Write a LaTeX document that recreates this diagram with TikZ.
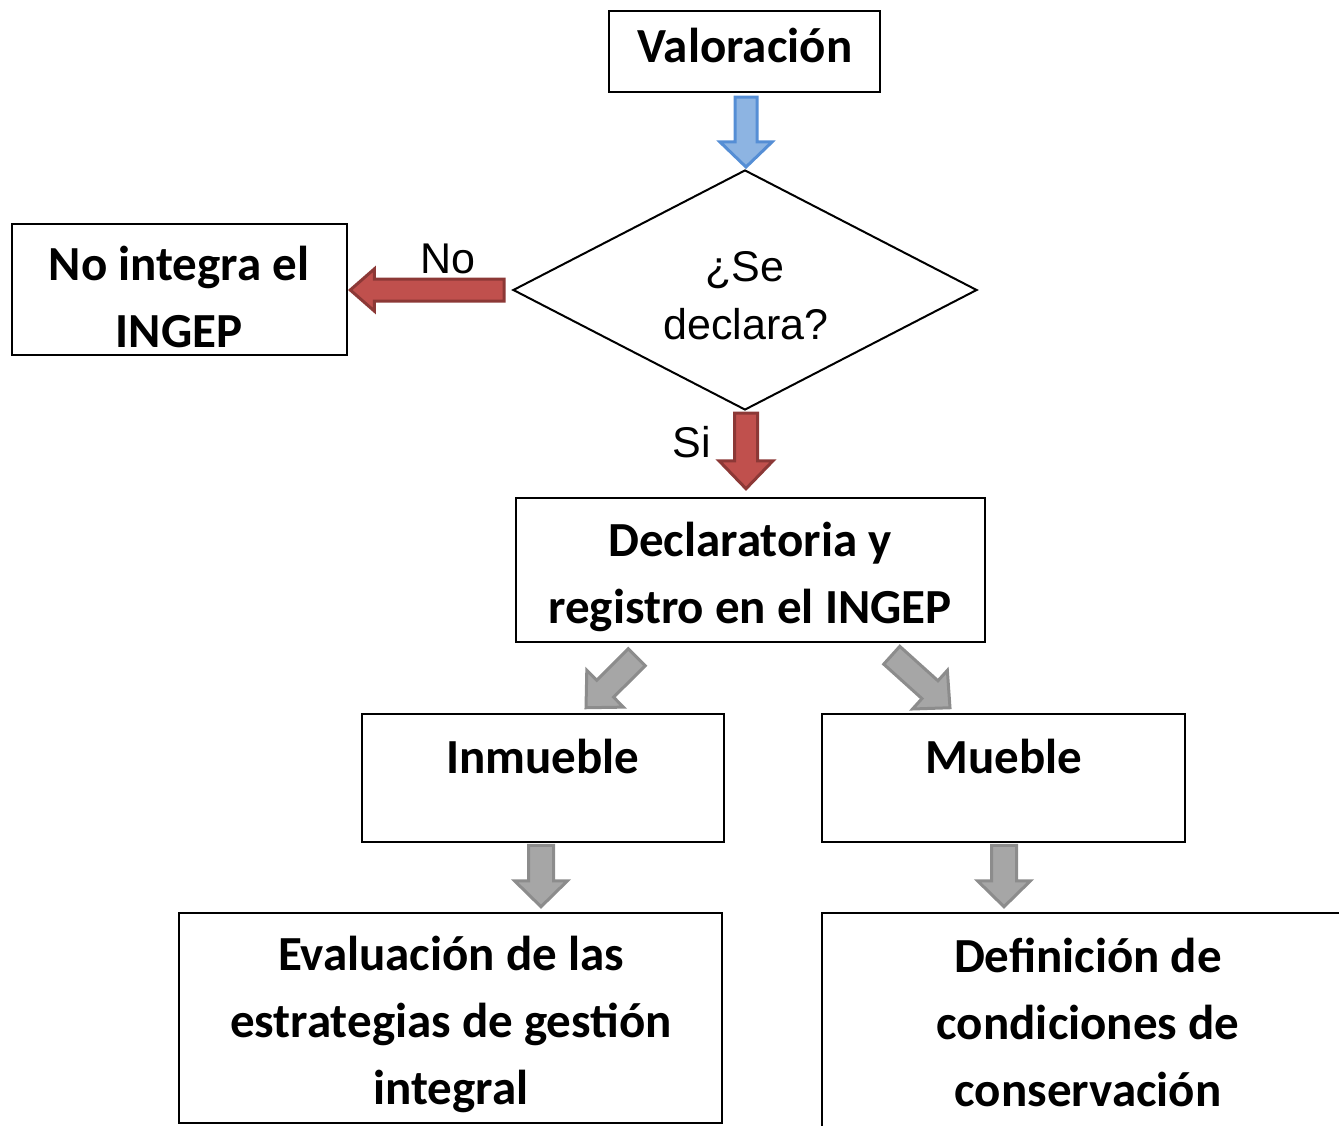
\documentclass[tikz,border=0pt]{standalone}
\usepackage{fontspec}
\setmainfont{Carlito}
\newfontfamily\arialf{Liberation Sans}
\usetikzlibrary{calc,shapes.geometric}
\definecolor{blueF}{RGB}{141,180,226}
\definecolor{blueD}{RGB}{85,142,213}
\definecolor{redF}{RGB}{192,80,77}
\definecolor{redD}{RGB}{140,56,54}
\definecolor{grayF}{RGB}{166,166,166}
\definecolor{grayD}{RGB}{140,140,140}
\tikzset{
  box/.style={draw=black, line width=2.5pt, inner sep=0pt, rectangle},
  btxt/.style={font=\fontsize{49}{58}\selectfont\bfseries, anchor=base, inner sep=0pt},
  ntxt/.style={font=\arialf\fontsize{43}{50}\selectfont, anchor=base, inner sep=0pt},
  bluearr/.style={fill=blueF, draw=blueD, line width=3pt, line join=miter},
  redarr/.style={fill=redF, draw=redD, line width=3pt, line join=miter},
  grayarr/.style={fill=grayF, draw=grayD, line width=3pt, line join=miter},
}
% #1 style, #2 start, #3 tip, #4 half shaft, #5 half head, #6 head length
\newcommand\blockarrow[6]{%
  \coordinate (hb) at ($(#3)!#6!(#2)$);
  \draw[#1] ($(#2)!#4!90:(#3)$) -- ($(hb)!#4!90:(#3)$) -- ($(hb)!#5!90:(#3)$)
    -- (#3) -- ($(hb)!#5!-90:(#3)$) -- ($(hb)!#4!-90:(#3)$) -- ($(#2)!#4!-90:(#3)$) -- cycle;
}
\begin{document}
\begin{tikzpicture}[x=1pt,y=-1pt]
\useasboundingbox (0,0) rectangle (1339,1126);
% boxes
\node[box, minimum width=271pt, minimum height=81pt] (val) at (744.5,51.5) {};
\node[box, minimum width=335pt, minimum height=131pt] (noint) at (179.5,289.5) {};
\node[diamond, draw=black, line width=2pt, inner sep=0pt, minimum width=464pt, minimum height=240pt] (dia) at (745,290) {};
\node[box, minimum width=469pt, minimum height=144pt] (decl) at (750.5,570) {};
\node[box, minimum width=362pt, minimum height=128pt] (inm) at (543,778) {};
\node[box, minimum width=363pt, minimum height=128pt] (mue) at (1003.5,778) {};
\node[box, minimum width=543pt, minimum height=210pt] (eval) at (450.5,1018) {};
\node[box, minimum width=523pt, minimum height=222pt] (def) at (1083.5,1024) {};
% texts
\node[btxt] (t1) at (745,63) {Valoración};
\node[btxt] (t2a) at (179,280) {No integra el};
\node[btxt] (t2b) at (179,347) {INGEP};
\node[ntxt] (t3a) at (745,281) {¿Se};
\node[ntxt] (t3b) at (746,339) {declara?};
\node[ntxt] (tno) at (448,273) {No};
\node[ntxt] (tsi) at (692,457) {Si};
\node[btxt] (t4a) at (750,556) {Declaratoria y};
\node[btxt] (t4b) at (750,623) {registro en el INGEP};
\node[btxt] (t5) at (543,773) {Inmueble};
\node[btxt] (t6) at (1004,773) {Mueble};
\node[btxt] (t7a) at (451,970) {Evaluación de las};
\node[btxt] (t7b) at (451,1037) {estrategias de gestión};
\node[btxt] (t7c) at (451,1104) {integral};
\node[btxt] (t8a) at (1088,972) {Definición de};
\node[btxt] (t8b) at (1088,1039) {condiciones de};
\node[btxt] (t8c) at (1088,1106) {conservación};
% arrow end points
\coordinate (a1s) at ($(val.south)+(1.5,4)$);
\coordinate (a1e) at ($(dia.north)+(1,-2)$);
\coordinate (a2s) at ($(dia.west)+(-8,0)$);
\coordinate (a2e) at ($(noint.east)+(2,0.5)$);
\coordinate (a3s) at ($(dia.south)+(1,2)$);
\coordinate (a3e) at ($(dia.south |- decl.north)+(1,-8)$);
\coordinate (a4s) at ($(decl.south west)+(122,14)$);
\coordinate (a4e) at ($(inm.north)+(43,-5)$);
\coordinate (a5s) at ($(decl.south west)+(377,12)$);
\coordinate (a5e) at ($(mue.north)+(-53.5,-5)$);
\coordinate (a6s) at ($(inm.south)+(-2,2)$);
\coordinate (a6e) at ($(inm.south |- eval.north)+(-2,-5)$);
\coordinate (a7s) at ($(mue.south)+(0.5,2)$);
\coordinate (a7e) at ($(mue.south |- def.north)+(0.5,-5)$);
% block arrows
\blockarrow{bluearr}{a1s}{a1e}{11pt}{26pt}{25pt}
\blockarrow{redarr}{a2s}{a2e}{11pt}{21pt}{24pt}
\blockarrow{redarr}{a3s}{a3e}{11.5pt}{27pt}{28pt}
\blockarrow{grayarr}{a4s}{a4e}{12pt}{26pt}{27pt}
\blockarrow{grayarr}{a5s}{a5e}{12pt}{26pt}{27pt}
\blockarrow{grayarr}{a6s}{a6e}{12.5pt}{26.5pt}{26pt}
\blockarrow{grayarr}{a7s}{a7e}{12.5pt}{26.5pt}{26pt}
\end{tikzpicture}
\end{document}
